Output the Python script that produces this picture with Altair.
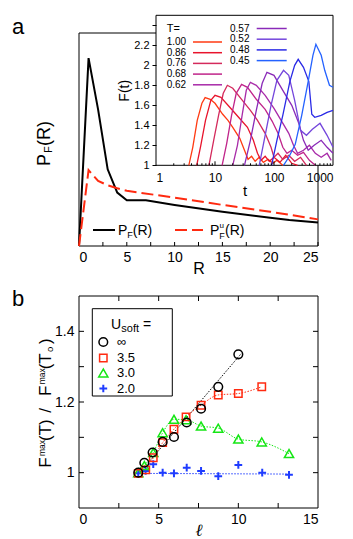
import altair as alt
import pandas as pd

FONT = "Liberation Sans"

# ---------------- panel a: main curves ----------------
R_black = [0, 1, 2, 3, 4, 5, 7, 10, 15, 20, 22, 25]
PF_black = [0.0, 0.882, 0.64, 0.36, 0.251, 0.215, 0.215, 0.193, 0.161, 0.133, 0.122, 0.110]
R_red = [0, 1, 2, 3, 4, 5, 10, 15, 20, 25]
PF_red = [0.0, 0.356, 0.306, 0.285, 0.271, 0.259, 0.227, 0.193, 0.161, 0.125]
R_ticks = [0, 2.5, 5, 7.5, 10, 12.5, 15, 17.5, 20, 22.5, 25]
R_labels = [0, 5, 10, 15, 20, 25]

# ---------------- panel a: inset F(t) ----------------
T_labels = ["1.00", "0.86", "0.76", "0.68", "0.62", "0.57", "0.52", "0.48", "0.45"]
T_colors = ["#ff3a12", "#e8142c", "#d42a5c", "#c0248a", "#a82aa8", "#8a2ab8", "#7446dc", "#2a2ae6", "#2462ff"]
t_curves = [
    [3.6, 4.2, 5.0, 6.0, 6.8, 8.3, 10, 13.5, 16.6, 20, 26.3, 31.6, 36.3, 41.7, 47.9, 56.2, 66.1, 79.4, 95.5, 112, 141],
    [4.9, 5.75, 6.9, 8.5, 10, 12.6, 17.8, 25.1, 35.5, 44.7, 52.5, 60.3, 70.8, 83.2, 100, 126, 158, 200, 251],
    [7.9, 9.5, 11.5, 13.8, 16.2, 20, 28.2, 39.8, 52.5, 70.8, 89.1, 100, 117, 141, 178, 224, 282, 355],
    [13.2, 15.8, 19.1, 22.9, 28.2, 35.5, 50.1, 70.8, 93.3, 117, 141, 166, 200, 251, 316, 398, 501],
    [20, 24, 28.8, 33.9, 39.8, 50.1, 70.8, 100, 132, 178, 214, 251, 316, 398, 501, 631, 794, 933],
    [31.6, 39.8, 50.1, 63.1, 75.9, 100, 141, 200, 263, 316, 380, 479, 631, 794, 1000],
    [56.2, 70.8, 89.1, 112, 145, 178, 224, 282, 355, 447, 603, 794, 1000],
    [91, 112, 141, 186, 224, 257, 316, 389, 437, 490, 631, 794, 1000],
    [145, 178, 229, 295, 380, 457, 513, 631, 724, 871, 1000],
]
F_curves = [
    [1.0, 1.18, 1.45, 1.62, 1.677, 1.66, 1.62, 1.51, 1.45, 1.38, 1.27, 1.15, 1.06, 1.09, 1.04, 1.08, 1.03, 1.06, 1.02, 1.05, 1.0],
    [1.0, 1.2, 1.45, 1.65, 1.70, 1.68, 1.58, 1.48, 1.38, 1.25, 1.12, 1.05, 1.09, 1.04, 1.08, 1.03, 1.1, 1.02, 1.0],
    [1.0, 1.25, 1.5, 1.72, 1.80, 1.77, 1.66, 1.55, 1.45, 1.32, 1.18, 1.08, 1.12, 1.06, 1.1, 1.04, 1.08, 1.0],
    [1.0, 1.22, 1.5, 1.72, 1.81, 1.78, 1.66, 1.56, 1.44, 1.32, 1.18, 1.12, 1.15, 1.1, 1.13, 1.05, 1.0],
    [1.0, 1.2, 1.5, 1.75, 1.83, 1.80, 1.70, 1.57, 1.45, 1.32, 1.2, 1.12, 1.15, 1.2, 1.12, 1.08, 1.12, 1.05],
    [1.0, 1.25, 1.55, 1.82, 1.93, 1.90, 1.75, 1.60, 1.42, 1.25, 1.15, 1.2, 1.25, 1.18, 1.12],
    [1.0, 1.3, 1.6, 1.85, 1.95, 1.90, 1.65, 1.35, 1.30, 1.36, 1.42, 1.3, 1.18],
    [1.0, 1.25, 1.5, 1.84, 2.0, 2.06, 1.98, 1.84, 1.51, 1.48, 1.5, 1.53, 1.55],
    [1.0, 1.08, 1.21, 1.5, 1.84, 2.1, 2.21, 2.1, 1.95, 1.80, 1.78],
]
t_major = [10, 100]
t_minor = [2, 3, 4, 5, 6, 7, 8, 9, 20, 30, 40, 50, 60, 70, 80, 90, 200, 300, 400, 500, 600, 700, 800, 900]
F_ticks = [1.0, 1.2, 1.4, 1.6, 1.8, 2.0, 2.2, 2.4]

# ---------------- panel b ----------------
l_inf = [3.72, 4.10, 4.62, 5.25, 5.96, 6.76, 7.66, 8.74, 10.0]
f_inf = [1.0, 1.028, 1.057, 1.087, 1.101, 1.142, 1.181, 1.243, 1.335]
l_35 = [3.72, 4.19, 4.66, 5.25, 5.96, 6.72, 7.66, 8.74, 10.0, 11.47]
f_35 = [0.998, 1.008, 1.042, 1.085, 1.123, 1.158, 1.191, 1.220, 1.224, 1.243]
l_30 = [3.72, 4.10, 4.66, 5.25, 5.96, 6.72, 7.66, 8.74, 10.0, 11.47, 13.18]
f_30 = [1.0, 1.02, 1.057, 1.113, 1.151, 1.15, 1.132, 1.126, 1.095, 1.087, 1.054]
l_20 = [3.72, 4.18, 4.66, 5.25, 5.96, 6.76, 7.66, 8.74, 10.0, 11.5, 13.18]
f_20 = [0.998, 1.005, 1.024, 1.0, 0.998, 1.014, 1.005, 0.99, 1.022, 1.0, 0.994]
fit_inf_l = [3.72, 10.2]
fit_inf_f = [0.995, 1.338]
fit_20_l = [3.72, 13.18]
fit_20_f = [0.998, 0.996]
U_labels = ["\u221e", "3.5", "3.0", "2.0"]
l_ticks = [2.5, 5, 7.5, 10, 12.5]
f_ticks = [1.0, 1.1, 1.2, 1.3, 1.4]

BLACK, RED, GREEN, BLUE = "black", "#ff2a10", "#14e614", "#1f3cff"

ONE = pd.DataFrame({"k": [0]})


def txt(s, x, y, size, angle=0, align="left", baseline="alphabetic", style="normal", font=FONT, color="black"):
    kw = dict(text=s, fontSize=size, align=align, baseline=baseline, font=font, color=color, fontStyle=style)
    if angle:
        kw["angle"] = angle
    return alt.Chart(ONE).mark_text(**kw).encode(x=alt.value(x), y=alt.value(y))


def hrule(x1, x2, y, color="black", width=1, dash=None):
    kw = dict(color=color, strokeWidth=width)
    if dash:
        kw["strokeDash"] = dash
    return alt.Chart(ONE).mark_rule(**kw).encode(x=alt.value(x1), x2=alt.value(x2), y=alt.value(y))


def box(x1, x2, y1, y2, fill="transparent", width=1):
    return alt.Chart(ONE).mark_rect(fill=fill, stroke="black", strokeWidth=width).encode(
        x=alt.value(x1), x2=alt.value(x2), y=alt.value(y1), y2=alt.value(y2))


# ================= PANEL A =================
WA, HA = 239, 213
xa = alt.Scale(domain=[0, 25], nice=False)
ya = alt.Scale(domain=[0, 1], nice=False)
dfa_b = pd.DataFrame({"R": R_black, "P": PF_black})
dfa_r = pd.DataFrame({"R": R_red, "P": PF_red})

xaxis_a = alt.Axis(values=R_labels, tickSize=0, domain=False, grid=False, labelFontSize=14, labelPadding=4,
                   labelFont=FONT, title="R", titleFont=FONT, titleFontSize=16, titleFontWeight="normal",
                   titleY=27, titleBaseline="alphabetic")

a_border = box(0, WA, 0, HA)
a_black = alt.Chart(dfa_b).mark_line(color="black", strokeWidth=2).encode(
    x=alt.X("R:Q", scale=xa, axis=xaxis_a), y=alt.Y("P:Q", scale=ya, axis=None))
a_red = alt.Chart(dfa_r).mark_line(color=RED, strokeWidth=2, strokeDash=[12, 5]).encode(
    x=alt.X("R:Q", scale=xa), y=alt.Y("P:Q", scale=ya))
a_ticks = alt.Chart(pd.DataFrame({"v": R_ticks})).mark_rule(color="black").encode(
    x=alt.X("v:Q", scale=xa), y=alt.value(HA), y2=alt.value(HA - 4))

a_texts = [
    txt("a", -67, 1, 22),
    # y title P_F(R), rotated
    txt("P", -29, 133, 18, angle=270),
    txt("F", -27, 120, 11, angle=270),
    txt("(R)", -29, 113, 18, angle=270),
    # legend
    hrule(14, 36, 197, "black", 2),
    txt("P", 39, 202, 14), txt("F", 48.3, 205, 9), txt("(R)", 53.8, 202, 14),
    hrule(96, 124, 197, RED, 2, [12, 5]),
    txt("P", 131, 202, 14), txt("u", 140.5, 195, 8), txt("F", 140.3, 206, 9), txt("(R)", 146, 202, 14),
]
main_layer = alt.layer(a_border, a_ticks, a_black, a_red, *a_texts)

# inset
IX0, IX1 = 77, 254
IY0, IY1 = 132.3, -17.7
xi = alt.Scale(type="log", domain=[1, 1000], range=[IX0, IX1], nice=False)
yi = alt.Scale(domain=[1, 2.5], range=[IY0, IY1], nice=False)

rows = []
for lab, ts, fs in zip(T_labels, t_curves, F_curves):
    for i, (t, f) in enumerate(zip(ts, fs)):
        rows.append({"T": lab, "t": t, "F": f, "i": i})
dfi = pd.DataFrame(rows)

xaxis_i = alt.Axis(orient="bottom", offset=IY0 - HA, values=[1, 10, 100, 1000], format="d", tickSize=0,
                   domain=False, grid=False, labelFontSize=12, labelFont=FONT, labelPadding=7, title="t",
                   titleFont=FONT, titleFontSize=15, titleFontWeight="normal", titlePadding=0, zindex=2)
yaxis_i = alt.Axis(orient="left", offset=-IX0, values=F_ticks, tickSize=4, tickColor="black",
                   labelExpr="datum.value > 2.3 ? '' : format(datum.value, '~g')",
                   domain=False, grid=False, labelFontSize=11, labelFont=FONT, labelPadding=3, title="F(t)",
                   titleFont=FONT, titleFontSize=14, titleFontWeight="normal", titlePadding=2, zindex=2)

i_bg = box(IX0, IX1, IY1, IY0, fill="white", width=1)
i_curves = alt.Chart(dfi).mark_line(strokeWidth=1.3).encode(
    x=alt.X("t:Q", scale=xi, axis=xaxis_i),
    y=alt.Y("F:Q", scale=yi, axis=yaxis_i),
    color=alt.Color("T:N", scale=alt.Scale(domain=T_labels, range=T_colors), legend=None),
    detail="T:N", order="i:Q")
i_major = alt.Chart(pd.DataFrame({"v": t_major})).mark_rule(color="black").encode(
    x=alt.X("v:Q", scale=xi), y=alt.value(IY0), y2=alt.value(IY0 - 4))
i_minor = alt.Chart(pd.DataFrame({"v": t_minor})).mark_rule(color="black").encode(
    x=alt.X("v:Q", scale=xi), y=alt.value(IY0), y2=alt.value(IY0 - 2))

leg = [txt("T=", 87.7, -1.3, 11)]
for k, (lab, col) in enumerate(zip(T_labels, T_colors)):
    if k < 5:
        yy = 9 + 10.7 * k
        leg.append(txt(lab, 87.7, yy, 10, baseline="middle"))
        leg.append(hrule(114, 143, yy, col, 1.5))
    else:
        yy = -4.5 + 10.7 * (k - 5)
        leg.append(txt(lab, 151, yy, 10, baseline="middle"))
        leg.append(hrule(177.7, 207.7, yy, col, 1.5))

inset_layer = alt.layer(i_bg, i_curves, i_major, i_minor, *leg)

panel_a = alt.layer(main_layer, inset_layer).resolve_scale(
    x="independent", y="independent").resolve_axis(x="independent", y="independent").properties(
    width=WA, height=HA)

# ================= PANEL B =================
WB, HB = 239, 212
xb = alt.Scale(domain=[0, 15], nice=False)
yb = alt.Scale(domain=[0.9, 1.5], nice=False)
xaxis_b = alt.Axis(values=[0, 5, 10, 15], tickSize=0, domain=False, grid=False, labelFontSize=14, labelPadding=4,
                   labelFont=FONT, title="\u2113", titleFont="DejaVu Serif", titleFontSize=17,
                   titleFontStyle="italic", titleFontWeight="normal", titleY=27, titleBaseline="alphabetic")
yaxis_b = alt.Axis(values=[1, 1.2, 1.4], format="~g", tickSize=0, domain=False, grid=False, labelFontSize=14,
                   labelPadding=5, labelFont=FONT, title=None)

CROSS = "M-1,0L1,0M0,-1L0,1"


def series(ls, fs, shape, color, size, sw=1.5, with_axes=False):
    d = pd.DataFrame({"l": ls, "f": fs})
    enc_x = alt.X("l:Q", scale=xb, axis=xaxis_b) if with_axes else alt.X("l:Q", scale=xb)
    enc_y = alt.Y("f:Q", scale=yb, axis=yaxis_b) if with_axes else alt.Y("f:Q", scale=yb)
    return alt.Chart(d).mark_point(shape=shape, filled=False, color=color, size=size, strokeWidth=sw,
                                   opacity=1).encode(x=enc_x, y=enc_y)


def fitline(ls, fs, color, interp="linear"):
    d = pd.DataFrame({"l": ls, "f": fs})
    return alt.Chart(d).mark_line(color=color, strokeWidth=1, strokeDash=[1.5, 1.5], interpolate=interp).encode(
        x=alt.X("l:Q", scale=xb), y=alt.Y("f:Q", scale=yb))


b_border = box(0, WB, 0, HB)
b_xt = pd.DataFrame({"v": l_ticks})
b_yt = pd.DataFrame({"v": f_ticks})
b_ticks = [
    alt.Chart(b_xt).mark_rule(color="black").encode(x=alt.X("v:Q", scale=xb), y=alt.value(HB), y2=alt.value(HB - 5)),
    alt.Chart(b_xt).mark_rule(color="black").encode(x=alt.X("v:Q", scale=xb), y=alt.value(0), y2=alt.value(5)),
    alt.Chart(b_yt).mark_rule(color="black").encode(y=alt.Y("v:Q", scale=yb), x=alt.value(0), x2=alt.value(5)),
    alt.Chart(b_yt).mark_rule(color="black").encode(y=alt.Y("v:Q", scale=yb), x=alt.value(WB - 5), x2=alt.value(WB)),
]
b_fits = [
    fitline(fit_inf_l, fit_inf_f, BLACK),
    fitline(l_35, f_35, RED, "monotone"),
    fitline(l_30, f_30, GREEN, "monotone"),
    fitline(fit_20_l, fit_20_f, BLUE),
]
b_pts = [
    series(l_20, f_20, CROSS, BLUE, 60, 2, with_axes=True),
    series(l_30, f_30, "triangle-up", GREEN, 85),
    series(l_35, f_35, "square", RED, 55),
    series(l_inf, f_inf, "circle", BLACK, 75),
]

sym_x = 24.3
rows_y = [46, 62, 77, 92.5]
shapes = [("circle", BLACK, 75, 1.5), ("square", RED, 55, 1.5), ("triangle-up", GREEN, 85, 1.5), (CROSS, BLUE, 60, 2)]
b_leg = [box(13.3, 93.3, 12.7, 100), txt("U", 32, 33, 14), txt("soft", 42.3, 36, 11), txt("=", 64, 33, 14)]
for (shp, col, sz, sw), lab, yy in zip(shapes, U_labels, rows_y):
    b_leg.append(alt.Chart(ONE).mark_point(shape=shp, filled=False, color=col, size=sz, strokeWidth=sw,
                                           opacity=1).encode(x=alt.value(sym_x), y=alt.value(yy)))
    b_leg.append(txt(lab, 38, yy, 13, baseline="middle"))

BX = -28
b_texts = [
    txt("b", -67, 10, 22),
    txt("F", BX, 171.7, 17, angle=270),
    txt("max", BX - 6, 160, 8.5, angle=270),
    txt("(T)", BX, 145, 17, angle=270),
    txt("/", BX, 116.7, 17, angle=270),
    txt("F", BX, 100, 17, angle=270),
    txt("max", BX - 6, 88.3, 8.5, angle=270),
    txt("(T", BX, 73.3, 17, angle=270),
    txt("o", BX + 1.5, 56, 9.5, angle=270),
    txt(")", BX, 48, 17, angle=270),
]

panel_b = alt.layer(b_border, *b_ticks, *b_fits, *b_pts, *b_leg, *b_texts).properties(width=WB, height=HB)

chart = alt.vconcat(panel_a, panel_b, spacing=12).properties(
    padding={"left": 4, "top": 6, "right": 2, "bottom": 1}
).configure_view(stroke=None).configure_axis(grid=False)

chart.save("out.html", embed_options={"renderer": "svg", "actions": False})
